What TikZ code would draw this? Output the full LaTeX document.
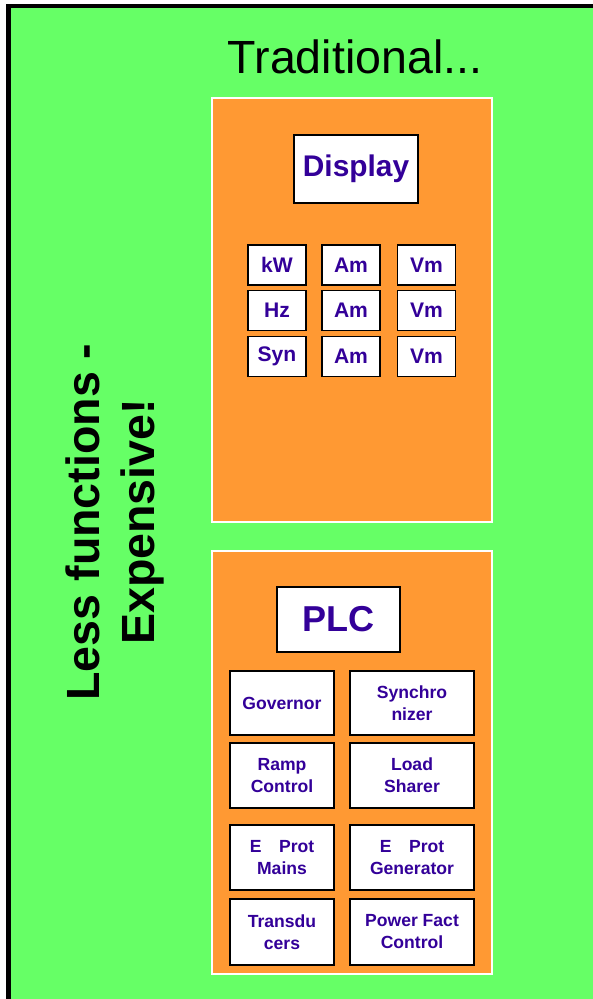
\documentclass[tikz,border=0pt]{standalone}
\usepackage{fontspec}
\setmainfont{Liberation Sans}
\usepackage{tikz}
\usetikzlibrary{positioning}
\definecolor{bggreen}{HTML}{66FF66}
\definecolor{panelorange}{HTML}{FF9933}
\definecolor{textpurple}{HTML}{330099}
\tikzset{
    panel/.style={draw=white, line width=0.8pt, fill=panelorange, minimum width=5.6cm, inner sep=0pt},
    whitebox/.style={draw=black, line width=1.1pt, fill=white, inner sep=0pt, text=textpurple, font=\bfseries},
    meter/.style={whitebox, minimum width=1.16cm, minimum height=0.8cm, font=\fontsize{12}{14}\selectfont\bfseries},
    func/.style={whitebox, minimum height=1.3cm, align=center, font=\fontsize{10}{12.5}\selectfont\bfseries}
}

\begin{document}
\begin{tikzpicture}[x=0.02cm, y=-0.02cm]

    \useasboundingbox (0,0) rectangle (592,999);
    \draw[fill=bggreen, line width=2.6pt] (8.5,6) rectangle (620,1030);

    \draw(355,57) node (title) {\fontsize{26.5}{30}\selectfont Traditional...};
    \draw(115,522) node[rotate=90, align=center, font=\fontsize{26.5}{31}\selectfont\bfseries] (slogan)
    {Less functions -\\Expensive!};

    % display panel
    \draw(352,310) node[panel, minimum height=8.48cm] (top) {};
    \draw(356,169) node[whitebox, minimum width=2.48cm, minimum height=1.36cm,
        font=\fontsize{17}{20}\selectfont\bfseries] (display) {Display};

    \draw(277,265) node[meter] (kw) {kW};
    \draw(351,265) node[meter] (am1) {Am};
    \draw(426.5,265) node[meter] (vm1) {Vm};
    \draw(277,310.5) node[meter] (hz) {Hz};
    \draw(351,310.5) node[meter] (am2) {Am};
    \draw(426.5,310.5) node[meter] (vm2) {Vm};
    \draw(277,356.5) node[meter] (syn) {Syn};
    \draw(351,356.5) node[meter] (am3) {Am};
    \draw(426.5,356.5) node[meter] (vm3) {Vm};

    % plc panel
    \draw(352,762.5) node[panel, minimum height=8.46cm] (bottom) {};
    \draw(338.5,619.5) node[whitebox, minimum width=2.46cm, minimum height=1.3cm,
        font=\fontsize{20.5}{24}\selectfont\bfseries] (plc) {PLC};

    \draw(282,703) node[func, minimum width=2.08cm, minimum height=1.28cm] (gov) {Governor};
    \draw(412,703) node[func, minimum width=2.48cm, minimum height=1.28cm] (sync) {Synchro\\nizer};
    \draw(282,775.5) node[func, minimum width=2.08cm] (ramp) {Ramp\\Control};
    \draw(412,775.5) node[func, minimum width=2.48cm] (load) {Load\\Sharer};
    \draw(282,857.5) node[func, minimum width=2.08cm] (mains) {E\quad Prot\\Mains};
    \draw(412,857.5) node[func, minimum width=2.48cm] (gen) {E\quad Prot\\Generator};
    \draw(282,932) node[func, minimum width=2.08cm, minimum height=1.32cm] (trans) {Transdu\\cers};
    \draw(412,932) node[func, minimum width=2.48cm, minimum height=1.32cm] (pf) {Power Fact\\Control};

    \end{tikzpicture}
\end{document}
